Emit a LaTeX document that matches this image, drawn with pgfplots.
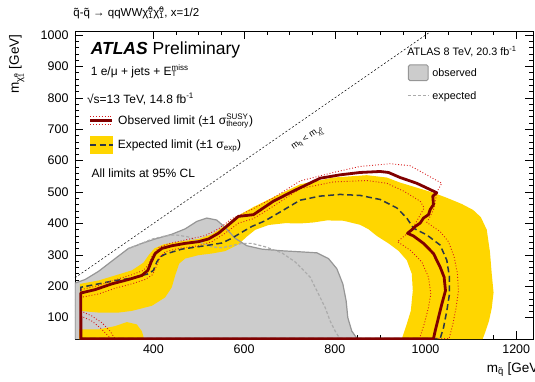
\documentclass[border=0pt]{standalone}
\usepackage{fontspec}
\setmainfont{Liberation Sans}
\usepackage{pgfplots}
\pgfplotsset{compat=1.18}

\definecolor{obsred}{RGB}{128,0,0}
\definecolor{thred}{RGB}{215,25,25}
\definecolor{expdark}{RGB}{45,55,70}
\definecolor{bandyellow}{RGB}{255,214,0}
\definecolor{oldfill}{RGB}{204,204,204}
\definecolor{oldline}{RGB}{150,150,150}

\newcommand{\neut}{\~{χ}\rlap{\textsuperscript{0}}\textsubscript{1}}
\newcommand{\sq}{\~{q}}

\begin{document}
\begin{tikzpicture}
\useasboundingbox (-75pt,-42pt) rectangle (460pt,339pt);
\begin{axis}[
  scale only axis, width=458pt, height=308pt,
  xmin=227, xmax=1237, ymin=32, ymax=1013,
  xtick={400,600,800,1000,1200}, minor x tick num=3,
  ytick={100,200,...,1000}, minor y tick num=4,
  tick align=inside,
  major tick length=8pt, minor tick length=4pt,
  every tick/.style={black, line width=0.6pt},
  axis line style={line width=0.8pt},
  /pgf/number format/assume math mode=true,
  /pgf/number format/1000 sep={},
  ticklabel style={font=\fontsize{12.5}{14}\selectfont},
  xticklabel style={yshift=-2pt},
  yticklabel style={xshift=-3pt},
  clip mode=individual,
  xlabel={m\textsubscript{\sq} [GeV]},
  ylabel={m\textsubscript{\neut} [GeV]},
  every axis x label/.style={at={(axis description cs:0.8915,-0.1)}, anchor=west, font=\fontsize{13.5}{15}\selectfont},
  every axis y label/.style={at={(axis description cs:-0.103,1)}, rotate=90, anchor=south east, font=\fontsize{13.5}{15}\selectfont},
]

% 8 TeV observed exclusion (fill only; outline drawn later)
\addplot[fill=oldfill, draw=none] coordinates {
 (227,32) (227,210) (249.4,221.5) (278.8,247.4) (315.6,288.2) (345,320.5) (374.4,336.6)
 (403.8,350.6) (440.5,365.6) (470,382.8) (495.6,406.5) (517.7,417.2) (539.7,410.8)
 (558.1,387.1) (580.2,352.7) (605.9,329.1) (639,318.3) (683.1,313) (723.5,309.7)
 (760.3,306.5) (786,288.2) (804.4,255.9) (817.6,207.6) (824.9,153.8) (828.6,100)
 (837.4,57) (849.9,32)} -- cycle;

% expected +-1 sigma band
\addplot[fill=bandyellow, draw=none] coordinates {
 (238,207.6) (278.8,218.3) (315.6,234.4) (352.3,250.6) (378,275.3) (390.5,301.1)
 (402.3,320.5) (422.1,333.4) (455.2,342) (499.3,350.6) (528.7,365.6) (558.1,393.6)
 (580.2,419.4) (620,452) (664.6,484) (723.5,524.8) (797,546.3) (870.5,553.8)
 (914.6,546.3) (944,530.1) (980.8,514) (1017.5,497.9) (1046.9,481.7) (1080,462)
 (1105,443) (1122,420) (1135,380) (1142,310) (1146,240) (1150,180) (1146,130)
 (1140,90) (1132,55) (1126,32)
 (947.7,32) (957.2,73.1) (967.5,121.5) (971.9,186) (969.7,239.8) (958.7,282.8)
 (940.3,313) (918.3,336.6) (892.6,360.2) (874.2,381.7) (855.8,395.7) (819.1,408.6)
 (782.3,409.7) (752.9,403.2) (723.5,400) (690.4,401) (653.7,395) (624.3,379.6)
 (605.9,358.1) (587.5,333.4) (558.1,311.9) (528.7,304.3) (499.3,299) (470,288.2)
 (456.7,272.1) (447.9,234.4) (440.5,196.8) (425.8,164.5) (396.4,137.7) (352.3,121.5)
 (322.9,116.2) (278.8,116.2) (238,121.5)} -- cycle;
\addplot[fill=bandyellow, draw=none] coordinates {
 (236,32) (236,62.4) (278.8,62.4) (315.6,73.1) (341.3,86) (363.3,78.5) (374.4,57) (379.5,32)} -- cycle;

% 8 TeV outlines
\addplot[oldline, line width=1.2pt] coordinates {
 (227,32) (227,210) (249.4,221.5) (278.8,247.4) (315.6,288.2) (345,320.5) (374.4,336.6)
 (403.8,350.6) (440.5,365.6) (470,382.8) (495.6,406.5) (517.7,417.2) (539.7,410.8)
 (558.1,387.1) (580.2,352.7) (605.9,329.1) (639,318.3) (683.1,313) (723.5,309.7)
 (760.3,306.5) (786,288.2) (804.4,255.9) (817.6,207.6) (824.9,153.8) (828.6,100)
 (837.4,57) (849.9,32)};
\addplot[oldline!80, line width=1.2pt, dash pattern=on 3pt off 2pt] coordinates {
 (345,320.5) (359.7,328) (396.4,350) (425.8,360) (447.9,364) (477.3,357)
 (499.3,342) (528.7,325.8) (550.8,322.6) (572.8,329.1) (594.9,336.6) (616.9,336.6)
 (646.3,325.8) (683.1,306.5) (712.5,277.5) (728,255) (745.6,229.1) (763.9,175.3)
 (778.6,132.3) (789.7,89.3) (800.7,57) (811.7,32)};

% expected limit
\addplot[expdark, line width=1.5pt, dash pattern=on 6pt off 3.5pt] coordinates {
 (240,33) (240,196.8) (278.8,207.6) (315.6,218.3) (352.3,225.8) (389,239.8) (400,250.6)
 (407.4,277.5) (414.8,293.6) (425.8,302.2) (462.6,318.3) (514,329.1) (550.8,337.7)
 (572.8,352.7) (594.9,372.1) (616.9,390.4) (646.3,408.6) (680,437) (723.5,474.2)
 (767.6,487.1) (811.7,492.5) (855.8,489.3) (899.9,476.4) (936.7,449.5) (958.7,417.2)
 (973.4,385) (1002.8,363.5) (1032.2,331.2) (1046.9,282.8) (1052.8,229.1) (1052.8,175.3)
 (1046.9,121.5) (1039.6,67.7) (1032.2,33)} -- cycle;

% observed +-1 sigma theory
\addplot[thred, line width=0.9pt, dotted] coordinates {
 (240,33) (239.8,189.3) (278.8,202.2) (315.6,220.5) (352.3,236.6) (378,250.6) (389,268.9)
 (397.9,299) (412.6,323.7) (433.2,335.5) (470,347.4) (514,361.3) (543.4,382.8)
 (572.8,415.1) (620,447) (664.6,481.8) (723.5,535.5) (797,562.4) (855.8,581.7)
 (922,590.3) (966,583.9) (1035.9,528) (1024.9,500) (1021.2,465.6) (1017.5,444.1)
 (1010.2,422.6) (1002.8,403.2) (1011.6,394.6) (1032.2,374.2) (1050.6,341.9)
 (1063.1,293.6) (1070.4,239.8) (1072.6,186) (1067.5,132.3) (1060.1,78.5) (1052,33)} -- cycle;
\addplot[thred, line width=0.9pt, dotted] coordinates {
 (240,33) (239.8,164.5) (278.8,175.3) (315.6,193.6) (352.3,207.6) (381.7,221.5)
 (397.9,236.6) (407.4,266.7) (414.8,293.6) (425.8,309.7) (455.2,320.5) (499.3,329.1)
 (528.7,342) (558.1,368.9) (587.5,401.1) (620,415) (664.6,455) (723.5,510.8)
 (797,532.3) (870.5,536.6) (914.6,528) (951.4,503.3) (988.1,471) (996.9,449.5)
 (984.4,417.2) (969.7,379.6) (938.1,342) (966,315.1) (991.8,277.4) (1006.5,229.1)
 (1011.6,175.3) (1006.5,132.3) (996.9,78.5) (986.6,33)} -- cycle;
\addplot[thred, line width=0.9pt, dotted] coordinates {
 (239.8,121.5) (264,105.4) (286.2,84) (304.5,57) (315.6,32)};
\addplot[thred, line width=0.9pt, dotted] coordinates {
 (239.8,105.4) (264,89.3) (282.5,67.8) (297.2,46.3) (306.7,32)};

% observed limit
\addplot[obsred, line width=2.8pt, line join=round] coordinates {
 (240,33) (239.8,178.5) (271.5,189.3) (308.2,207.6) (345,221.5) (374.4,234.4) (387.6,250.6)
 (395,277.5) (403.8,304.3) (418.5,320.5) (440.5,329) (470,336.6) (499.3,342)
 (521.4,350.6) (543.4,368.9) (565.5,395.7) (587.5,422.6) (620.5,428) (664.6,471)
 (708.7,503.3) (767.6,544.1) (811.7,554.9) (855.8,562.4) (899.9,565.6) (918.3,562.4)
 (944,546.3) (980.8,528) (1024.9,497.9) (1016,487.1) (1017.5,460.2) (1010.2,444.1)
 (1006.5,428) (995.5,417.2) (988.1,401.1) (977.1,390.3) (969.7,379.6) (960.2,368.8)
 (973.4,360.2) (995.5,336.6) (1017.5,304.3) (1032.2,261.3) (1041,229.1) (1044,186.1)
 (1035.9,143) (1028.5,100) (1021.2,57) (1017.5,33)} -- cycle;

% kinematic boundary
\addplot[black, line width=0.5pt, dash pattern=on 2pt off 2pt] coordinates {(227,227) (1013,1013)};
\node[rotate=34.7, anchor=center, font=\fontsize{9}{10}\selectfont, inner sep=0pt] at (axis cs:741,668)
  {m\textsubscript{\sq} < m\textsubscript{\neut}};

% text block, upper left
\node[anchor=base west, font=\fontsize{17.5}{20}\selectfont, inner sep=0pt] at (axis description cs:0.034,0.925)
  {\textbf{\textit{ATLAS}} Preliminary};
\node[anchor=base west, font=\fontsize{12}{14}\selectfont, inner sep=0pt] at (axis description cs:0.034,0.857)
  {1 e/μ + jets + E\rlap{\textsuperscript{miss}}\textsubscript{T}};
\node[anchor=base west, font=\fontsize{12}{14}\selectfont, inner sep=0pt] at (axis description cs:0.026,0.766)
  {√s=13 TeV, 14.8 fb\textsuperscript{-1}};

% legend, upper left
\draw[thred, line width=0.9pt, dotted] (axis description cs:0.033,0.724) -- (axis description cs:0.081,0.724);
\draw[thred, line width=0.9pt, dotted] (axis description cs:0.033,0.698) -- (axis description cs:0.081,0.698);
\draw[obsred, line width=3pt] (axis description cs:0.033,0.711) -- (axis description cs:0.081,0.711);
\node[anchor=base west, font=\fontsize{12}{14}\selectfont, inner sep=0pt] at (axis description cs:0.094,0.697)
  {Observed limit (±1 σ\rlap{\textsuperscript{SUSY}}\textsubscript{theory})};
\fill[bandyellow] (axis description cs:0.033,0.601) rectangle (axis description cs:0.082,0.659);
\draw[expdark, line width=1.5pt, dash pattern=on 6pt off 3.5pt] (axis description cs:0.033,0.630) -- (axis description cs:0.082,0.630);
\node[anchor=base west, font=\fontsize{12}{14}\selectfont, inner sep=0pt] at (axis description cs:0.093,0.617)
  {Expected limit (±1 σ\textsubscript{exp})};
\node[anchor=base west, font=\fontsize{12}{14}\selectfont, inner sep=0pt] at (axis description cs:0.036,0.524)
  {All limits at 95\% CL};

% legend, upper right
\node[anchor=base west, font=\fontsize{10.8}{12}\selectfont, inner sep=0pt] at (axis description cs:0.725,0.920)
  {ATLAS 8 TeV, 20.3 fb\textsuperscript{-1}};
\filldraw[fill=oldfill, draw=oldline, line width=1pt, rounded corners=1.5pt]
  (axis description cs:0.728,0.839) rectangle (axis description cs:0.771,0.890);
\node[anchor=base west, font=\fontsize{10.8}{12}\selectfont, inner sep=0pt] at (axis description cs:0.780,0.851) {observed};
\draw[oldline!80, line width=1.2pt, dash pattern=on 3pt off 2pt] (axis description cs:0.727,0.790) -- (axis description cs:0.771,0.790);
\node[anchor=base west, font=\fontsize{10.8}{12}\selectfont, inner sep=0pt] at (axis description cs:0.780,0.779) {expected};

% process title above the frame
\node[anchor=base west, font=\fontsize{11.5}{13}\selectfont, inner sep=0pt] at ([yshift=14pt]axis description cs:-0.004,1)
  {\sq-\sq{} → qqWW\neut\neut, x=1/2};
\end{axis}
\end{tikzpicture}
\end{document}
